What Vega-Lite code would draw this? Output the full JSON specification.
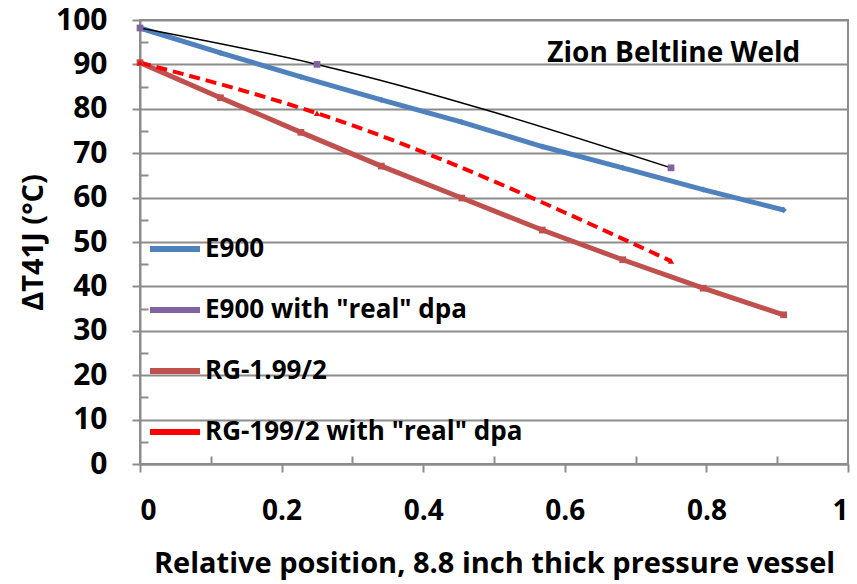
{
  "$schema": "https://vega.github.io/schema/vega-lite/v6.json",
  "width": 708,
  "height": 444,
  "autosize": {"type": "none"},
  "padding": {"left": 140, "top": 20, "right": 9, "bottom": 120},
  "background": "white",
  "config": {
    "font": "Open Sans",
    "view": {"stroke": "#8c8c8c", "strokeWidth": 2},
    "axis": {"labelFont": "Open Sans", "labelFontWeight": "bold", "labelColor": "black", "titleFont": "Open Sans", "titleFontWeight": "bold", "titleColor": "black", "domainColor": "#8c8c8c", "domainWidth": 2, "tickColor": "#8c8c8c", "tickWidth": 2, "gridColor": "#8c8c8c", "gridWidth": 2}
  },
  "resolve": {"axis": {"x": "independent", "y": "independent"}},
  "datasets": {
    "pts": [
      {"series": "E900", "x": 0.0, "y": 98.2},
      {"series": "E900", "x": 0.1136, "y": 92.6},
      {"series": "E900", "x": 0.2273, "y": 87.2},
      {"series": "E900", "x": 0.3409, "y": 82.0},
      {"series": "E900", "x": 0.4545, "y": 77.0},
      {"series": "E900", "x": 0.5682, "y": 71.5},
      {"series": "E900", "x": 0.6818, "y": 66.7},
      {"series": "E900", "x": 0.7955, "y": 61.8},
      {"series": "E900", "x": 0.9091, "y": 57.2},
      {"series": "E900 with \"real\" dpa", "x": 0.0, "y": 98.2},
      {"series": "E900 with \"real\" dpa", "x": 0.25, "y": 90.0},
      {"series": "E900 with \"real\" dpa", "x": 0.75, "y": 66.7},
      {"series": "RG-1.99/2", "x": 0.0, "y": 90.4},
      {"series": "RG-1.99/2", "x": 0.1136, "y": 82.5},
      {"series": "RG-1.99/2", "x": 0.2273, "y": 74.7},
      {"series": "RG-1.99/2", "x": 0.3409, "y": 67.1},
      {"series": "RG-1.99/2", "x": 0.4545, "y": 59.9},
      {"series": "RG-1.99/2", "x": 0.5682, "y": 52.7},
      {"series": "RG-1.99/2", "x": 0.6818, "y": 46.0},
      {"series": "RG-1.99/2", "x": 0.7955, "y": 39.6},
      {"series": "RG-1.99/2", "x": 0.9091, "y": 33.6},
      {"series": "RG-199/2 with \"real\" dpa", "x": 0.0, "y": 90.4},
      {"series": "RG-199/2 with \"real\" dpa", "x": 0.25, "y": 79.0},
      {"series": "RG-199/2 with \"real\" dpa", "x": 0.75, "y": 45.7}
    ],
    "label": [{"x": 0.754, "y": 90.5, "text": "Zion Beltline Weld"}]
  },
  "layer": [
    {
      "data": {"name": "pts"},
      "transform": [{"filter": "datum.series === 'E900' || datum.series === 'RG-1.99/2'"}],
      "mark": {"type": "line", "strokeWidth": 5},
      "encoding": {
        "x": {"field": "x", "type": "quantitative", "scale": {"domain": [0, 1], "nice": false},
          "axis": {"orient": "bottom", "values": [0, 0.2, 0.4, 0.6, 0.8, 1], "format": "~g", "grid": false, "tickSize": 8, "labelFontSize": 28, "labelPadding": 25, "title": "Relative position, 8.8 inch thick pressure vessel", "titleFontSize": 29, "titlePadding": 24}},
        "y": {"field": "y", "type": "quantitative", "scale": {"domain": [0, 100], "nice": false},
          "axis": {"orient": "left", "values": [0, 10, 20, 30, 40, 50, 60, 70, 80, 90, 100], "grid": true, "tickSize": 8, "labelFontSize": 30, "labelPadding": 25, "title": "ΔT41J (°C)", "titleFontSize": 29, "titlePadding": 7}},
        "color": {"field": "series", "type": "nominal",
          "scale": {"domain": ["E900", "E900 with \"real\" dpa", "RG-1.99/2", "RG-199/2 with \"real\" dpa"], "range": ["#4F81BD", "#8064A2", "#C0504D", "#FF0000"]},
          "legend": {"title": null, "orient": "none", "legendX": 7, "legendY": 201, "symbolType": "stroke", "symbolStrokeWidth": 6, "symbolSize": 2500, "labelFont": "Open Sans", "labelFontWeight": "bold", "labelFontSize": 26, "labelColor": "black", "rowPadding": 20, "labelOffset": 2, "labelLimit": 500}}
      }
    },
    {
      "data": {"name": "pts"},
      "transform": [{"filter": "datum.series === 'E900 with \"real\" dpa'"}],
      "mark": {"type": "line", "strokeWidth": 1.5, "color": "black", "interpolate": "monotone"},
      "encoding": {
        "x": {"field": "x", "type": "quantitative",
          "axis": {"orient": "bottom", "values": [0.1, 0.3, 0.5, 0.7, 0.9], "tickSize": -8, "labels": false, "domain": false, "grid": false, "title": null}},
        "y": {"field": "y", "type": "quantitative",
          "axis": {"orient": "left", "values": [5, 15, 25, 35, 45, 55, 65, 75, 85, 95], "tickSize": -8, "labels": false, "domain": false, "grid": false, "title": null}}
      }
    },
    {
      "data": {"name": "pts"},
      "transform": [{"filter": "datum.series === 'RG-199/2 with \"real\" dpa'"}],
      "mark": {"type": "line", "strokeWidth": 4, "strokeDash": [11, 6], "interpolate": "monotone"},
      "encoding": {
        "x": {"field": "x", "type": "quantitative", "axis": null},
        "y": {"field": "y", "type": "quantitative", "axis": null},
        "color": {"field": "series", "type": "nominal"}
      }
    },
    {
      "data": {"name": "pts"},
      "transform": [{"filter": "datum.series === 'E900'"}],
      "mark": {"type": "point", "filled": true, "opacity": 1, "size": 40, "shape": "diamond", "color": "#4F81BD"},
      "encoding": {
        "x": {"field": "x", "type": "quantitative", "axis": null},
        "y": {"field": "y", "type": "quantitative", "axis": null}
      }
    },
    {
      "data": {"name": "pts"},
      "transform": [{"filter": "datum.series === 'E900 with \"real\" dpa'"}],
      "mark": {"type": "point", "filled": true, "opacity": 1, "size": 45, "shape": "square", "color": "#8064A2"},
      "encoding": {
        "x": {"field": "x", "type": "quantitative", "axis": null},
        "y": {"field": "y", "type": "quantitative", "axis": null}
      }
    },
    {
      "data": {"name": "pts"},
      "transform": [{"filter": "datum.series === 'RG-1.99/2'"}],
      "mark": {"type": "point", "filled": true, "opacity": 1, "size": 45, "shape": "square", "color": "#C0504D"},
      "encoding": {
        "x": {"field": "x", "type": "quantitative", "axis": null},
        "y": {"field": "y", "type": "quantitative", "axis": null}
      }
    },
    {
      "data": {"name": "pts"},
      "transform": [{"filter": "datum.series === 'RG-199/2 with \"real\" dpa'"}],
      "mark": {"type": "point", "filled": true, "opacity": 1, "size": 40, "shape": "triangle-up", "color": "#FF0000"},
      "encoding": {
        "x": {"field": "x", "type": "quantitative", "axis": null},
        "y": {"field": "y", "type": "quantitative", "axis": null}
      }
    },
    {
      "data": {"name": "label"},
      "mark": {"type": "text", "font": "Open Sans", "fontWeight": "bold", "fontSize": 28, "align": "center", "baseline": "alphabetic", "color": "black"},
      "encoding": {
        "x": {"field": "x", "type": "quantitative", "axis": null},
        "y": {"field": "y", "type": "quantitative", "axis": null},
        "text": {"field": "text"}
      }
    }
  ]
}
